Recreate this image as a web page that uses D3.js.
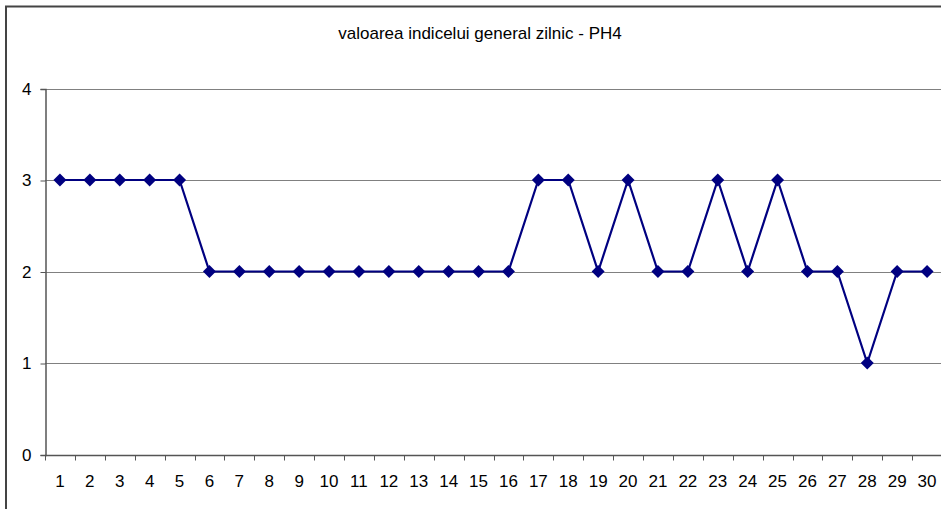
<!DOCTYPE html>
<html>
<head>
<meta charset="utf-8">
<script src="https://cdn.jsdelivr.net/npm/d3@7"></script>
<style>
  body { margin: 0; background: #fff; }
  svg { display: block; font-family: "Liberation Sans", Arial, sans-serif; }
</style>
</head>
<body>
<svg id="lineChart"></svg>
<script>
// data
var days = d3.range(1, 31)
var values = [3, 3, 3, 3, 3, 2, 2, 2, 2, 2, 2, 2, 2, 2, 2, 2, 3, 3, 2, 3, 2, 2, 3, 2, 3, 2, 2, 1, 2, 2]
var yTicks = [0, 1, 2, 3, 4]
var title = "valoarea indicelui general zilnic - PH4"

function getLineChart() {
    let width = 941, height = 509;
    var margin = { top: 88.5, right: -1, bottom: 54.5, left: 45 }

    var svg = d3.select("#lineChart")
        .attr("width", width)
        .attr("height", height)

    // outer frame
    svg.append("rect")
        .attr("x", 6).attr("y", 6.5)
        .attr("width", width + 10).attr("height", height + 10)
        .attr("fill", "none")
        .attr("stroke", "#444")
        .attr("stroke-width", 2)

    svg.append("text")
        .attr("x", 480)
        .attr("y", 39)
        .attr("text-anchor", "middle")
        .style("font-size", "17px")
        .text(title)

    var xScale = d3.scaleBand()
        .domain(days)
        .range([margin.left, width - margin.right])
    var yScale = d3.scaleLinear()
        .domain([0, 4])
        .range([height - margin.bottom, margin.top])

    // gridlines
    svg.append("g")
        .selectAll("line")
        .data(yTicks.filter(d => d > 0))
        .enter()
        .append("line")
        .attr("x1", margin.left)
        .attr("x2", width)
        .attr("y1", d => Math.round(yScale(d)) + 0.5)
        .attr("y2", d => Math.round(yScale(d)) + 0.5)
        .attr("stroke", "#808080")
        .attr("stroke-width", 1)

    // y axis
    var yAxis = svg.append("g")
        .attr("transform", "translate(" + (margin.left + 0.5) + ",0.5)")
        .call(d3.axisLeft(yScale).tickValues(yTicks).tickSize(5).tickPadding(9).tickFormat(d3.format("d")))
    yAxis.select(".domain").attr("stroke", "#555").attr("stroke-width", 1.5)
    yAxis.selectAll(".tick line").attr("stroke", "#555")
    yAxis.selectAll("text").style("font-size", "17px").attr("fill", "#000")

    // x axis, ticks between categories
    var xAxisG = svg.append("g")
        .attr("transform", "translate(0," + (Math.round(yScale(0)) + 0.5) + ")")
    xAxisG.append("line")
        .attr("x1", margin.left).attr("x2", width)
        .attr("stroke", "#555").attr("stroke-width", 1.5)
    xAxisG.selectAll(".sep")
        .data(days)
        .enter()
        .append("line")
        .attr("class", "sep")
        .attr("x1", d => Math.round(xScale(d)) + 0.5)
        .attr("x2", d => Math.round(xScale(d)) + 0.5)
        .attr("y1", 0).attr("y2", 5)
        .attr("stroke", "#555")
    xAxisG.selectAll("text")
        .data(days)
        .enter()
        .append("text")
        .attr("x", d => xScale(d) + xScale.bandwidth() / 2)
        .attr("y", 31)
        .attr("text-anchor", "middle")
        .style("font-size", "17px")
        .text(d => d)

    var cx = d => xScale(d) + xScale.bandwidth() / 2

    // line
    svg.append("path")
        .datum(values)
        .attr("fill", "none")
        .attr("stroke", "#000080")
        .attr("stroke-width", 2.2)
        .attr("d", d3.line()
            .x((d, i) => cx(days[i]))
            .y(d => yScale(d)))

    // diamond markers
    svg.selectAll(".marker")
        .data(values)
        .enter()
        .append("path")
        .attr("class", "marker")
        .attr("transform", (d, i) => "translate(" + cx(days[i]) + "," + yScale(d) + ")")
        .attr("d", "M0,-6.5L6.5,0L0,6.5L-6.5,0Z")
        .attr("fill", "#000080")
}
getLineChart();
</script>
</body>
</html>
